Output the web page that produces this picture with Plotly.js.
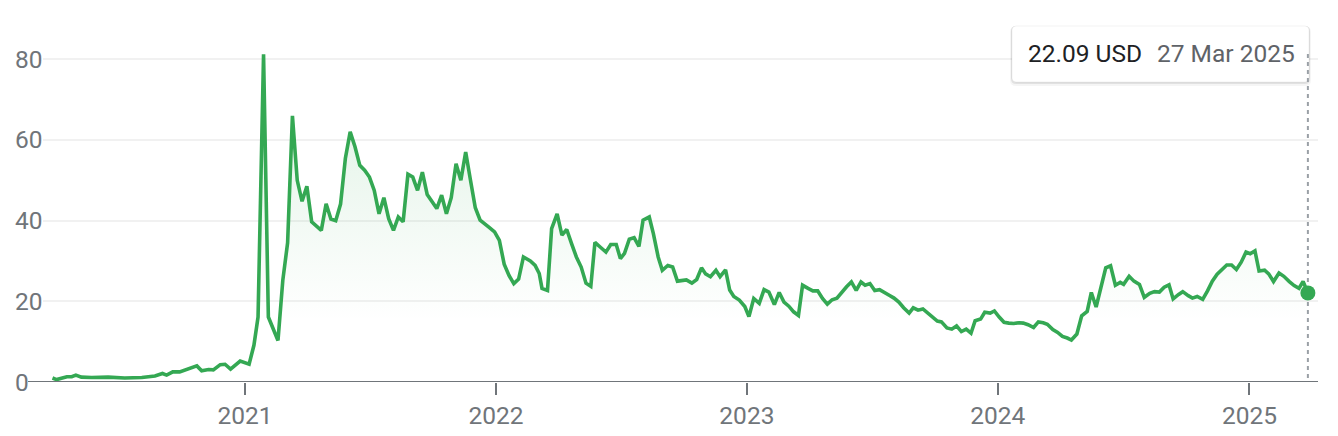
<!DOCTYPE html>
<html>
<head>
<meta charset="utf-8">
<script src="https://cdn.plot.ly/plotly-3.0.1.min.js"></script>
<style>
  html, body { margin: 0; padding: 0; background: #ffffff; }
  #chart { width: 1338px; height: 436px; }
</style>
</head>
<body>
<div id="chart"></div>
<script>
// ---- data (weekly closing price, USD) ----
const dates = [
 '2020-03-27','2020-04-02','2020-04-17','2020-04-24','2020-04-30','2020-05-08','2020-05-23','2020-06-16','2020-07-10','2020-08-04',
 '2020-08-23','2020-09-03','2020-09-09','2020-09-18','2020-09-28','2020-10-11','2020-10-23','2020-10-30','2020-11-09','2020-11-16',
 '2020-11-26','2020-12-03','2020-12-11','2020-12-25','2021-01-07','2021-01-14','2021-01-20','2021-01-28','2021-02-04','2021-02-18',
 '2021-02-25','2021-03-04','2021-03-11','2021-03-18','2021-03-25','2021-04-01','2021-04-08','2021-04-22','2021-04-29','2021-05-06',
 '2021-05-13','2021-05-20','2021-05-27','2021-06-03','2021-06-10','2021-06-17','2021-06-24','2021-07-01','2021-07-08','2021-07-15',
 '2021-07-22','2021-07-29','2021-08-05','2021-08-12','2021-08-19','2021-08-26','2021-09-02','2021-09-09','2021-09-16','2021-09-23',
 '2021-09-30','2021-10-07','2021-10-14','2021-10-21','2021-10-28','2021-11-04','2021-11-11','2021-11-18','2021-11-25','2021-12-02',
 '2021-12-09','2021-12-16','2021-12-23','2021-12-30','2022-01-06','2022-01-13','2022-01-20','2022-01-27','2022-02-03','2022-02-10',
 '2022-02-20','2022-02-27','2022-03-05','2022-03-09','2022-03-17','2022-03-23','2022-03-31','2022-04-07','2022-04-14','2022-04-21',
 '2022-04-28','2022-05-05','2022-05-12','2022-05-19','2022-05-25','2022-06-02','2022-06-10','2022-06-17','2022-06-25','2022-07-01',
 '2022-07-07','2022-07-14','2022-07-21','2022-07-28','2022-08-03','2022-08-12','2022-08-18','2022-08-25','2022-08-31','2022-09-08',
 '2022-09-15','2022-09-22','2022-09-29','2022-10-05','2022-10-13','2022-10-20','2022-10-27','2022-11-02','2022-11-09','2022-11-17',
 '2022-11-23','2022-12-01','2022-12-07','2022-12-13','2022-12-21','2022-12-29','2023-01-04','2023-01-11','2023-01-19','2023-01-26',
 '2023-02-02','2023-02-10','2023-02-17','2023-02-24','2023-03-03','2023-03-10','2023-03-17','2023-03-23','2023-03-31','2023-04-07',
 '2023-04-14','2023-04-21','2023-04-28','2023-05-05','2023-05-12','2023-05-19','2023-05-26','2023-06-02','2023-06-09','2023-06-16',
 '2023-06-22','2023-06-29','2023-07-06','2023-07-13','2023-07-20','2023-07-27','2023-08-03','2023-08-10','2023-08-17','2023-08-25',
 '2023-08-31','2023-09-07','2023-09-14','2023-09-21','2023-09-28','2023-10-05','2023-10-11','2023-10-19','2023-10-26','2023-11-02',
 '2023-11-09','2023-11-16','2023-11-23','2023-11-29','2023-12-07','2023-12-13','2023-12-21','2023-12-27','2024-01-03','2024-01-10',
 '2024-01-17','2024-01-24','2024-02-01','2024-02-07','2024-02-14','2024-02-22','2024-02-29','2024-03-07','2024-03-13','2024-03-21',
 '2024-03-28','2024-04-04','2024-04-11','2024-04-17','2024-04-25','2024-05-02','2024-05-10','2024-05-16','2024-05-23','2024-05-30',
 '2024-06-06','2024-06-13','2024-06-20','2024-06-27','2024-07-02','2024-07-10','2024-07-17','2024-07-25','2024-08-01','2024-08-09',
 '2024-08-16','2024-08-23','2024-08-30','2024-09-06','2024-09-12','2024-09-20','2024-09-26','2024-10-04','2024-10-10','2024-10-17',
 '2024-10-25','2024-11-01','2024-11-08','2024-11-15','2024-11-22','2024-11-29','2024-12-06','2024-12-13','2024-12-20','2024-12-27',
 '2025-01-02','2025-01-09','2025-01-15','2025-01-23','2025-01-29','2025-02-05','2025-02-13','2025-02-20','2025-02-28','2025-03-07',
 '2025-03-14','2025-03-20','2025-03-27'
];
const prices = [
 1.0,0.6,1.3,1.3,1.7,1.2,1.1,1.2,1.0,1.1,
 1.5,2.1,1.7,2.5,2.5,3.2,4.0,2.8,3.1,3.0,
 4.3,4.4,3.2,5.2,4.4,9.1,16.1,81.25,16.1,10.3,
 25.2,34.5,66.0,50.0,44.8,48.5,39.7,37.6,44.2,40.4,
 40.0,44.1,55.4,62.0,58.3,53.7,52.5,50.8,47.5,41.7,
 45.7,40.5,37.6,40.9,39.7,51.5,50.8,47.5,52.0,46.5,
 44.6,43.0,46.3,41.7,45.7,54.1,50.0,57.0,50.0,43.2,
 40.1,39.0,38.2,37.2,35.1,29.2,26.4,24.4,25.5,31.0,
 30.0,28.9,26.9,23.2,22.7,38.0,41.7,36.4,37.8,34.3,
 31.0,28.5,24.5,23.7,34.6,33.4,32.2,34.1,34.1,30.6,
 31.9,35.4,35.8,33.6,40.1,40.9,36.8,31.0,27.7,28.9,
 28.5,25.0,25.2,25.3,24.5,25.4,28.3,26.8,26.1,27.7,
 26.1,27.8,22.8,21.2,20.3,18.7,16.2,20.7,19.5,22.9,
 22.3,19.2,22.2,19.8,18.8,17.4,16.5,24.0,23.2,22.6,
 22.6,20.7,19.3,20.4,20.8,22.3,23.6,24.8,22.7,24.8,
 24.0,24.4,22.7,22.9,22.1,21.5,20.8,19.8,18.4,17.1,
 18.4,17.8,18.1,17.0,16.1,15.1,14.9,13.4,13.1,13.9,
 12.5,13.1,12.1,15.2,15.6,17.3,17.1,17.6,16.1,14.8,
 14.6,14.5,14.7,14.6,14.2,13.5,14.9,14.7,14.3,13.0,
 12.3,11.3,10.9,10.4,11.9,16.4,17.5,22.2,18.6,23.6,
 28.3,28.8,24.0,24.7,24.2,26.2,25.0,24.2,21.0,22.0,
 22.4,22.3,23.5,24.1,20.6,21.7,22.4,21.4,20.8,21.2,
 20.5,22.6,25.0,26.7,28.0,29.0,29.0,27.9,29.7,32.2,
 31.8,32.5,27.5,27.7,26.8,24.9,27.0,26.2,24.9,23.9,
 23.2,24.9,22.09
];
const xTickVals = ['2021-01-01','2022-01-01','2023-01-01','2024-01-01','2025-01-01'];
const xTickText = ['2021','2022','2023','2024','2025'];
const yTickVals = [0, 20, 40, 60, 80];
const currency = 'USD';
const monthNames = ['Jan','Feb','Mar','Apr','May','Jun','Jul','Aug','Sep','Oct','Nov','Dec'];

// ---- layout geometry (pixels) ----
const W = 1338, H = 436;
const M = {l: 43, r: 20, t: 20, b: 54};
const plotW = W - M.l - M.r, plotH = H - M.t - M.b;
const px2x = p => (p - M.l) / plotW;         // pixel -> paper x
const px2y = p => (H - M.b - p) / plotH;     // pixel -> paper y

const GREEN = '#34a853';
const GRAY = '#70757a';
const FONT = 'Roboto, Arial, sans-serif';
const FS = 24.5;

const lastIdx = prices.length - 1;
const lastDate = dates[lastIdx];
const lastPrice = prices[lastIdx];
const dParts = lastDate.split('-');
const lastDateText = parseInt(dParts[2], 10) + ' ' + monthNames[parseInt(dParts[1], 10) - 1] + ' ' + dParts[0];

const traces = [
  {
    type: 'scatter', mode: 'lines',
    x: dates, y: prices,
    line: {color: GREEN, width: 3.6},
    fill: 'tozeroy',
    fillgradient: {
      type: 'vertical',
      start: 15, stop: 70,
      colorscale: [[0, 'rgba(52,168,83,0)'], [1, 'rgba(52,168,83,0.14)']]
    },
    hoverinfo: 'skip', showlegend: false
  },
  {
    type: 'scatter', mode: 'markers',
    x: [lastDate], y: [lastPrice],
    marker: {color: GREEN, size: 15},
    hoverinfo: 'skip', showlegend: false
  }
];

// y tick labels (left-aligned, as in the reference)
const annotations = yTickVals.map(v => ({
  xref: 'paper', yref: 'y', x: px2x(13), y: v,
  xanchor: 'left', yanchor: 'middle', showarrow: false,
  text: String(v), font: {family: FONT, size: FS, color: GRAY}
}));

// tooltip texts
annotations.push({
  xref: 'paper', yref: 'paper', x: px2x(1026), y: px2y(54),
  xanchor: 'left', yanchor: 'middle', showarrow: false,
  text: lastPrice.toFixed(2) + ' ' + currency,
  font: {family: FONT, size: FS, color: '#202124'}
});
annotations.push({
  xref: 'paper', yref: 'paper', x: px2x(1155), y: px2y(54),
  xanchor: 'left', yanchor: 'middle', showarrow: false,
  text: lastDateText,
  font: {family: FONT, size: FS, color: '#5f6368'}
});

// rounded tooltip box path (paper coords)
function roundedBox(x0, y0, x1, y1, r) {
  const X = px2x, Y = px2y;
  return 'M' + X(x0 + r) + ',' + Y(y0) +
    ' L' + X(x1 - r) + ',' + Y(y0) +
    ' Q' + X(x1) + ',' + Y(y0) + ' ' + X(x1) + ',' + Y(y0 + r) +
    ' L' + X(x1) + ',' + Y(y1 - r) +
    ' Q' + X(x1) + ',' + Y(y1) + ' ' + X(x1 - r) + ',' + Y(y1) +
    ' L' + X(x0 + r) + ',' + Y(y1) +
    ' Q' + X(x0) + ',' + Y(y1) + ' ' + X(x0) + ',' + Y(y1 - r) +
    ' L' + X(x0) + ',' + Y(y0 + r) +
    ' Q' + X(x0) + ',' + Y(y0) + ' ' + X(x0 + r) + ',' + Y(y0) + ' Z';
}

const DASH = {color: '#9aa0a6', width: 2, dash: '4px,4px'};

const shapes = [
  // dashed cursor line at last point (below the marker)
  {type: 'line', xref: 'x', yref: 'paper', x0: lastDate, x1: lastDate, y0: px2y(378), y1: px2y(82),
   line: DASH, layer: 'below'},
  // x-axis baseline (extends left of the plot like the reference)
  {type: 'line', xref: 'paper', yref: 'y', x0: px2x(28), x1: 1, y0: 0, y1: 0,
   line: {color: GRAY, width: 2}, layer: 'above'},
  // tooltip shadow
  {type: 'path', xref: 'paper', yref: 'paper', path: roundedBox(1010, 26, 1311, 86, 6),
   fillcolor: 'rgba(0,0,0,0.04)', line: {width: 0}, layer: 'above'},
  {type: 'path', xref: 'paper', yref: 'paper', path: roundedBox(1011, 26, 1310, 84, 5),
   fillcolor: 'rgba(0,0,0,0.08)', line: {width: 0}, layer: 'above'},
  // tooltip box
  {type: 'path', xref: 'paper', yref: 'paper', path: roundedBox(1012, 26, 1309, 82, 4),
   fillcolor: '#ffffff', line: {color: 'rgba(0,0,0,0.05)', width: 1}, layer: 'above'},
  // dashed cursor line portion crossing the tooltip edge
  {type: 'line', xref: 'x', yref: 'paper', x0: lastDate, x1: lastDate, y0: px2y(82), y1: px2y(54),
   line: DASH, layer: 'above'}
];

const layout = {
  width: W, height: H,
  margin: M,
  paper_bgcolor: '#ffffff', plot_bgcolor: '#ffffff',
  showlegend: false,
  xaxis: {
    type: 'date',
    range: ['2020-03-13 05:00', '2025-04-10 17:00'],
    tickvals: xTickVals, ticktext: xTickText,
    ticks: 'outside', ticklen: 12, tickwidth: 2, tickcolor: GRAY,
    tickfont: {family: FONT, size: FS, color: GRAY},
    showgrid: false, zeroline: false, showline: false,
    fixedrange: true
  },
  yaxis: {
    range: [0, plotH / 4.034],
    tickvals: yTickVals,
    showticklabels: false,
    showgrid: true, gridcolor: '#f1f1f1', gridwidth: 2,
    zeroline: false, showline: false, ticks: '',
    fixedrange: true
  },
  shapes: shapes,
  annotations: annotations,
  font: {family: FONT}
};

Plotly.newPlot('chart', traces, layout, {displayModeBar: false, staticPlot: true});
</script>
</body>
</html>
